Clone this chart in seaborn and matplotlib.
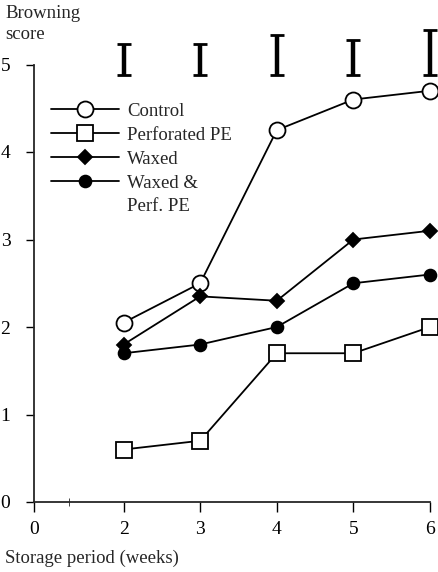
import numpy as np
import pandas as pd
import matplotlib
matplotlib.use("Agg")
import matplotlib.pyplot as plt
import seaborn as sns

weeks = [2, 3, 4, 5, 6]
control = [2.05, 2.5, 4.25, 4.6, 4.7]
perforated_pe = [0.6, 0.7, 1.7, 1.7, 2.0]
waxed = [1.8, 2.35, 2.3, 3.0, 3.1]
waxed_perf = [1.7, 1.8, 2.0, 2.5, 2.6]
lsd = [0.35, 0.35, 0.46, 0.40, 0.52]
lsd_base = 4.88

xtick_pos = [0.83, 2, 3, 4, 5, 6]
xtick_labels = ["0", "2", "3", "4", "5", "6"]

sns.set_style("ticks")
plt.rcParams["font.family"] = ["Liberation Serif", "DejaVu Serif"]

fig = plt.figure(figsize=(4.38, 5.72), dpi=100)
ax = fig.add_axes([34 / 438, 70 / 572, 396 / 438, 474 / 572])

series = [
    ("Control", control, "o", "white", 11.5),
    ("Perforated PE", perforated_pe, "s", "white", 11),
    ("Waxed", waxed, "D", "black", 7),
    ("Waxed &", waxed_perf, "o", "black", 8.5),
]
for name, vals, mk, fc, ms in series:
    df = pd.DataFrame({"week": weeks, "score": vals})
    sns.lineplot(data=df, x="week", y="score", ax=ax, color="black", lw=1.3,
                 marker=mk, markerfacecolor=fc, markeredgecolor="black",
                 markeredgewidth=1.3, markersize=ms, label=name, clip_on=False)
# second line of the last legend entry
ax.plot([], [], color="none", label="Perf. PE")

# LSD bars along the top
centers = [lsd_base + v / 2 for v in lsd]
ax.errorbar(weeks, centers, yerr=[v / 2 for v in lsd], fmt="none", ecolor="black",
            elinewidth=3.2, capsize=5, capthick=2, clip_on=False)

ax.set_xlim(0.83, 6.0)
ax.set_ylim(0, 474 / 87.5)
ax.set_xticks(xtick_pos)
ax.set_xticklabels(xtick_labels)
ax.set_xticks([1.29], minor=True)
ax.set_yticks([0, 1, 2, 3, 4, 5])
ax.tick_params(axis="both", labelsize=14, width=1, colors="black")
ax.tick_params(axis="x", length=7, pad=7)
ax.tick_params(axis="x", which="minor", direction="inout", length=6)
ax.tick_params(axis="y", length=6, pad=11)
ax.spines["left"].set_bounds(0, 5)
ax.spines["left"].set_linewidth(1.3)
ax.spines["bottom"].set_linewidth(1.3)
sns.despine(ax=ax)

ax.set_xlabel("")
ax.set_ylabel("")
fig.text(5 / 438, 1 - 24 / 572, "Browning\nscore", fontsize=13.5, ha="left",
         va="center", linespacing=1.35)
fig.text(5 / 438, 1 - 563 / 572, "Storage period (weeks)", fontsize=13.5,
         ha="left", va="baseline")

leg = ax.legend(loc="upper left", bbox_to_anchor=(0.025, 0.858), frameon=False,
                fontsize=13.5, handlelength=3.6, handletextpad=0.45,
                labelspacing=0.36, borderaxespad=0)

fig.savefig("out.png", dpi=100)
